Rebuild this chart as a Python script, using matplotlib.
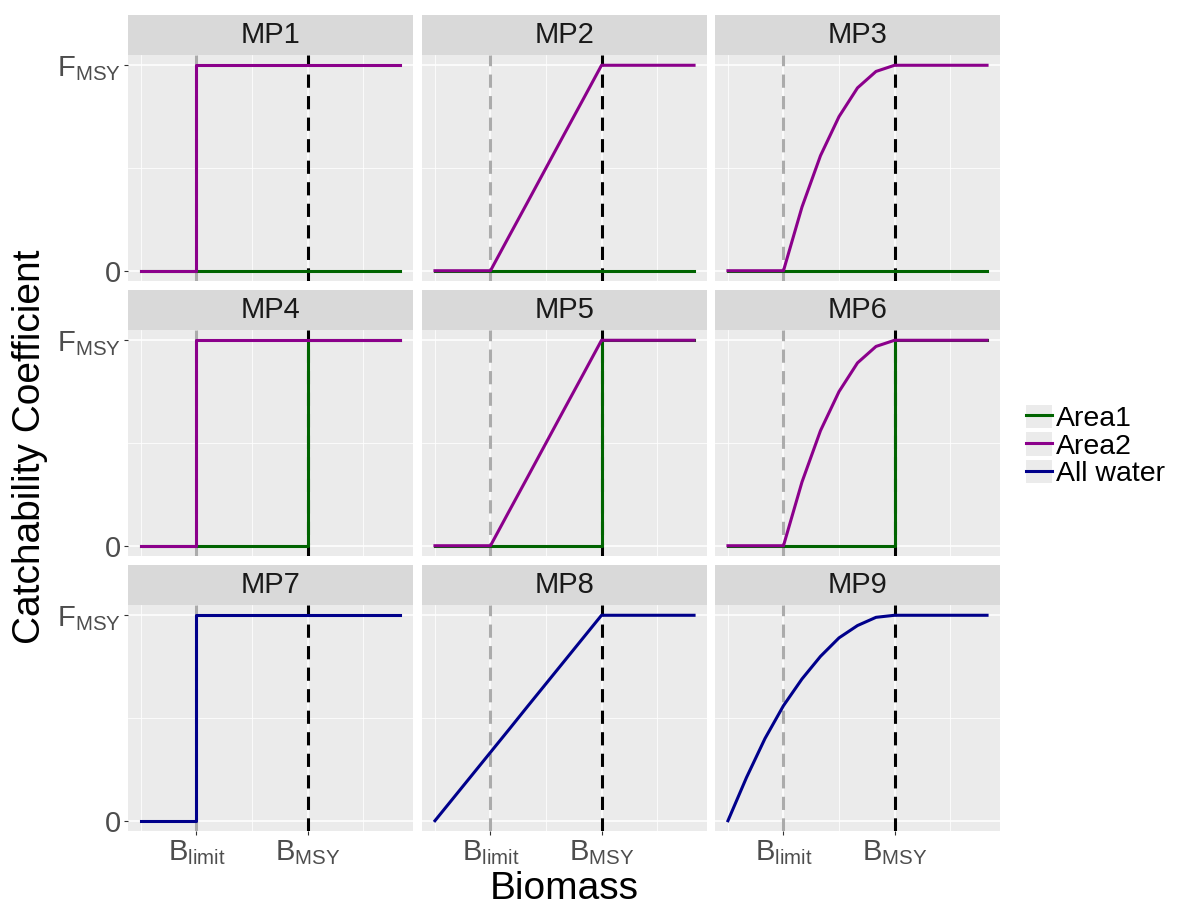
import matplotlib
matplotlib.use('Agg')
import matplotlib.pyplot as plt
from matplotlib.lines import Line2D
from matplotlib.patches import Rectangle
from matplotlib.legend_handler import HandlerTuple

plt.rcParams['font.family'] = 'Liberation Sans'
plt.rcParams['mathtext.fontset'] = 'custom'
plt.rcParams['mathtext.rm'] = 'Liberation Sans'
plt.rcParams['mathtext.it'] = 'Liberation Sans:italic'
plt.rcParams['lines.scale_dashes'] = False

# reference points on the biomass axis
b_limit = 0.3
b_msy = 0.9

# biomass grid used by the smooth rules
biomass = [0.0, 0.1, 0.2, 0.3, 0.4, 0.5, 0.6, 0.7, 0.8, 0.9, 1.0, 1.1, 1.2, 1.3, 1.4]
ramp_y = [0, 0, 0, 0, 0.167, 0.333, 0.5, 0.667, 0.833, 1, 1, 1, 1, 1, 1]
curve_y = [0, 0, 0, 0, 0.31, 0.56, 0.75, 0.89, 0.97, 1, 1, 1, 1, 1, 1]
ramp0_y = [0, 0.111, 0.222, 0.333, 0.444, 0.556, 0.667, 0.778, 0.889, 1, 1, 1, 1, 1, 1]
curve0_y = [0, 0.21, 0.40, 0.56, 0.69, 0.80, 0.89, 0.95, 0.99, 1, 1, 1, 1, 1, 1]

# knife-edge rules
flat_x = [0.0, 1.4]
flat_y = [0, 0]
step_limit_x = [0.0, 0.3, 0.3, 1.4]
step_limit_y = [0, 0, 1, 1]
step_msy_x = [0.0, 0.9, 0.9, 1.4]
step_msy_y = [0, 0, 1, 1]

panels = ['MP1', 'MP2', 'MP3', 'MP4', 'MP5', 'MP6', 'MP7', 'MP8', 'MP9']
series_names = ['Area1', 'Area2', 'All water']
colors = {'Area1': '#006400', 'Area2': '#8B008B', 'All water': '#00008B'}

area1 = {
    'MP1': (flat_x, flat_y), 'MP2': (flat_x, flat_y), 'MP3': (flat_x, flat_y),
    'MP4': (step_msy_x, step_msy_y), 'MP5': (step_msy_x, step_msy_y), 'MP6': (step_msy_x, step_msy_y),
}
area2 = {
    'MP1': (step_limit_x, step_limit_y), 'MP2': (biomass, ramp_y), 'MP3': (biomass, curve_y),
    'MP4': (step_limit_x, step_limit_y), 'MP5': (biomass, ramp_y), 'MP6': (biomass, curve_y),
}
all_water = {
    'MP7': (step_limit_x, step_limit_y), 'MP8': (biomass, ramp0_y), 'MP9': (biomass, curve0_y),
}

W, H = 1180, 907
fig = plt.figure(figsize=(W / 100, H / 100), dpi=100)

col_left = [128, 422, 715]
row_top = [55, 330, 605]
pw, ph = 285, 226
strip_h = 40

for i, name in enumerate(panels):
    r, c = divmod(i, 3)
    ax = fig.add_axes([col_left[c] / W, 1 - (row_top[r] + ph) / H, pw / W, ph / H])
    ax.set_facecolor('#EBEBEB')
    for s in ax.spines.values():
        s.set_visible(False)
    ax.set_xlim(-0.07, 1.47)
    ax.set_ylim(-0.05, 1.05)
    ax.set_xticks([b_limit, b_msy])
    ax.set_xticks([0.0, 0.6, 1.2], minor=True)
    ax.set_yticks([0, 1])
    ax.set_yticks([0.5], minor=True)
    ax.set_xticklabels([r'$\mathrm{B_{limit}}$', r'$\mathrm{B_{MSY}}$'])
    ax.set_yticklabels(['0', r'$\mathrm{F_{MSY}}$'])
    ax.grid(which='major', color='white', lw=1.1)
    ax.grid(which='minor', color='white', lw=0.55)
    ax.set_axisbelow(True)
    ax.tick_params(which='minor', length=0)
    ax.tick_params(which='major', length=3, width=0.8, color='#333333',
                   labelcolor='#4D4D4D', labelsize=21, pad=2)
    if r < 2:
        ax.tick_params(bottom=False, labelbottom=False)
    if c > 0:
        ax.tick_params(left=False, labelleft=False)

    ax.axvline(b_limit, color='#ABABAB', lw=2.2, dashes=(9.5, 6), zorder=2)
    ax.axvline(b_msy, color='black', lw=2.2, dashes=(9.5, 6), zorder=2)

    if name in area1:
        x, y = area1[name]
        ax.plot(x, y, color=colors['Area1'], lw=2.2, zorder=3)
    if name in area2:
        x, y = area2[name]
        ax.plot(x, y, color=colors['Area2'], lw=2.2, zorder=3)
    if name in all_water:
        x, y = all_water[name]
        ax.plot(x, y, color=colors['All water'], lw=2.2, zorder=3)

    # facet strip
    sh = strip_h / ph
    ax.add_patch(Rectangle((0, 1), 1, sh, transform=ax.transAxes, clip_on=False,
                           facecolor='#D9D9D9', edgecolor='none'))
    ax.text(0.5, 1 + sh / 2, name, transform=ax.transAxes, ha='center', va='center',
            fontsize=21, color='#1A1A1A')

fig.text(30 / W, 1 - 447 / H, 'Catchability Coefficient', rotation=90,
         ha='center', va='center', fontsize=28)
fig.text(564 / W, 1 - 899 / H, 'Biomass', ha='center', va='baseline', fontsize=28)

handles = []
for s in series_names:
    key_bg = Rectangle((0, 0), 1, 1, facecolor='#EBEBEB', edgecolor='none')
    handles.append((key_bg, Line2D([], [], color=colors[s], lw=2.2)))
fig.legend(handles, series_names, handler_map={tuple: HandlerTuple(ndivide=1, pad=0)},
           loc='center left', bbox_to_anchor=(1026 / W, 1 - 446 / H), frameon=False,
           fontsize=20.5, handlelength=0.9, handleheight=0.9, labelspacing=0.0,
           handletextpad=0.15, borderpad=0, borderaxespad=0)

fig.savefig('out.png', dpi=100)
